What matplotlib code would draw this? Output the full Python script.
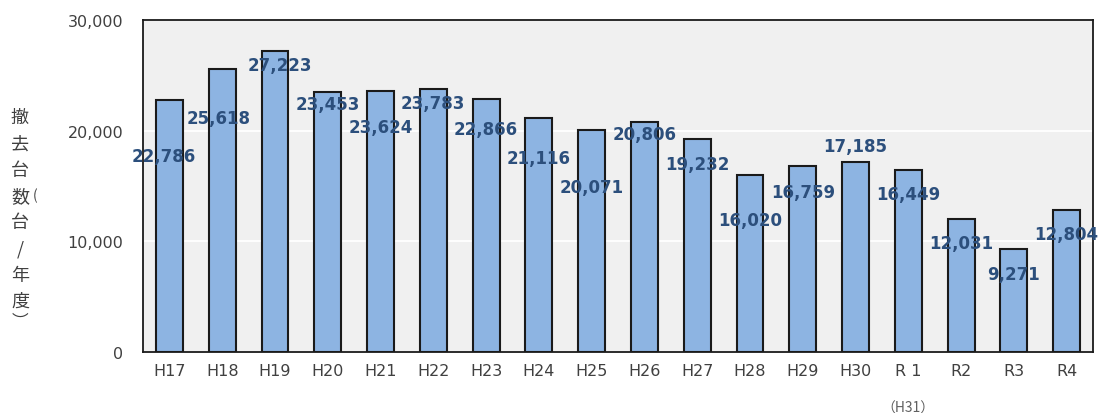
import numpy as np
import matplotlib.pyplot as plt
from matplotlib.ticker import FuncFormatter

# 年度別の撤去台数
years = ['H17', 'H18', 'H19', 'H20', 'H21', 'H22', 'H23', 'H24', 'H25',
         'H26', 'H27', 'H28', 'H29', 'H30', 'R 1', 'R2', 'R3', 'R4']
counts = [22786, 25618, 27223, 23453, 23624, 23783, 22866, 21116, 20071,
          20806, 19232, 16020, 16759, 17185, 16449, 12031, 9271, 12804]

# ラベルの置き場所 (x のずれ, y の高さ)
label_dx = [-0.10, -0.07, 0.10, 0, 0, 0, 0, 0, 0,
            0, 0, 0, 0, 0, 0, 0, 0, 0]
label_y = [17700, 21140, 25930, 22400, 20325, 22495, 20140, 17520, 14900,
           19690, 16980, 11910, 14445, 18605, 14265, 9830, 7030, 10650]

jp = ['Noto Sans CJK JP', 'DejaVu Sans']

fig = plt.figure(figsize=(11.07, 4.14), dpi=100)
ax = fig.add_axes([0.1292, 0.148, 0.8582, 0.801])
ax.set_facecolor('#f0f0f0')

x = np.arange(len(years))
ax.bar(x, counts, width=0.51, color='#8db4e2', edgecolor='#1a1a1a',
       linewidth=1.5, zorder=3)

for i, v in enumerate(counts):
    ax.text(x[i] + label_dx[i], label_y[i], f'{v:,}', ha='center', va='center',
            fontsize=12, fontweight='bold', color='#2c4f7c', zorder=4)

ax.set_xlim(-0.5, len(years) - 0.5)
ax.set_ylim(0, 30000)
ax.set_yticks([0, 10000, 20000, 30000])
ax.yaxis.set_major_formatter(FuncFormatter(lambda v, p: f'{int(v):,}'))
ax.set_xticks(x)
ax.set_xticklabels(years)
ax.tick_params(axis='y', length=0, pad=14, labelsize=11.5, labelcolor='#404040')
ax.tick_params(axis='x', length=0, pad=8, labelsize=11.5, labelcolor='#404040')
ax.grid(axis='y', color='white', linewidth=1.3, zorder=1)
for s in ax.spines.values():
    s.set_color('#1a1a1a')
    s.set_linewidth(1.3)

# R1 の下の注記
ax.text(14, -0.168, '（H31）', transform=ax.get_xaxis_transform(),
        ha='center', va='center', fontsize=10, color='#606060', family=jp)

# 縦書きの軸ラベル
ylab = ['撤', '去', '台', '数', '台', '/', '年', '度']
for k, ch in enumerate(ylab):
    fig.text(0.018, 1 - (118 + k * 26.3) / 414, ch, ha='center', va='center',
             fontsize=13, color='#404040', family=jp)
fig.text(0.032, 1 - 196 / 414, '(', ha='center', va='center',
         fontsize=10, color='#404040', family=jp)
fig.text(0.018, 1 - 322 / 414, '︶', ha='center', va='center',
         fontsize=12, color='#404040', family=jp)

fig.savefig('out.png', dpi=100)
